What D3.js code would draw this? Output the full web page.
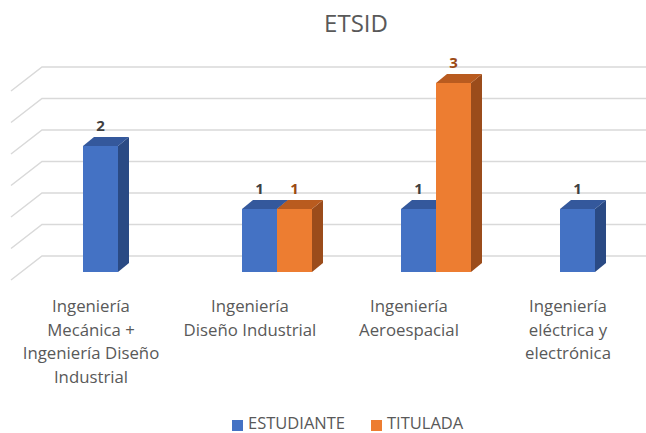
<!DOCTYPE html>
<html>
<head>
<meta charset="utf-8">
<script src="https://cdn.jsdelivr.net/npm/d3@7"></script>
<style>
  html, body { margin: 0; padding: 0; background: #fff; }
  svg { display: block; font-family: "Open Sans", sans-serif; }
</style>
</head>
<body>
<svg id="chart" width="646" height="433"></svg>
<script>
const title = "ETSID";
const categories = [
  "Ingeniería\nMecánica +\nIngeniería Diseño\nIndustrial",
  "Ingeniería\nDiseño Industrial",
  "Ingeniería\nAeroespacial",
  "Ingeniería\neléctrica y\nelectrónica"
];
const seriesNames = ["ESTUDIANTE", "TITULADA"];
const estudiante = [2, 1, 1, 1];
const titulada = [null, 1, 3, null];
const gridTicks = [0, 0.5, 1, 1.5, 2, 2.5, 3];

const colors = {
  ESTUDIANTE: { front: "#4472C4", top: "#34589c", side: "#2a4a84", label: "#404040" },
  TITULADA:   { front: "#ED7D31", top: "#b95b1f", side: "#9b4c1b", label: "#9C4A14" }
};

const svg = d3.select("#chart");
const W = 646;

// scales
const x = d3.scaleBand().domain(categories).range([38.5, 674.5]);
const xs = d3.scaleBand().domain(seriesNames).range([44.5, 114.5]);
const yFront = d3.scaleLinear().domain([0, 3]).range([272, 83]);
const yBack = d3.scaleLinear().domain([0, 3]).range([256, 67]);
const wallX = 42, wallDx = 31, wallDy = 24;
const barDx = 11, barDy = 9;
const labelShift = 27;

// title
svg.append("text").attr("x", 356).attr("y", 32).attr("text-anchor", "middle")
  .attr("font-size", 24).attr("fill", "#595959").text(title);

// gridlines (back wall + side wall)
const grid = svg.append("g").attr("stroke", "#d9d9d9").attr("stroke-width", 1.5).attr("fill", "none");
gridTicks.forEach(t => {
  const yb = yBack(t);
  grid.append("path").attr("d", `M${wallX - wallDx},${yb + wallDy}L${wallX},${yb}L${W},${yb}`);
});

// bars
const data = [];
categories.forEach((c, i) => {
  [[seriesNames[0], estudiante[i]], [seriesNames[1], titulada[i]]].forEach(([s, v]) => {
    if (v != null) data.push({ c, s, v });
  });
});

const bars = svg.append("g");
data.forEach(d => {
  const x0 = x(d.c) + xs(d.s), x1 = x0 + xs.bandwidth();
  const y0 = yFront(0), y1 = yFront(d.v);
  const col = colors[d.s];
  const g = bars.append("g");
  g.append("path").attr("fill", col.side)
    .attr("d", `M${x1},${y1}L${x1 + barDx},${y1 - barDy}L${x1 + barDx},${y0 - barDy}L${x1},${y0}Z`);
  g.append("path").attr("fill", col.top)
    .attr("d", `M${x0},${y1}L${x0 + barDx},${y1 - barDy}L${x1 + barDx},${y1 - barDy}L${x1},${y1}Z`);
  g.append("rect").attr("x", x0).attr("y", y1).attr("width", x1 - x0).attr("height", y0 - y1)
    .attr("fill", col.front);
  svg.append("text").attr("x", (x0 + x1) / 2).attr("y", y1 - 15)
    .attr("text-anchor", "middle").attr("font-size", 15).attr("font-weight", "bold")
    .attr("fill", col.label).text(d.v);
});

// category labels
categories.forEach(c => {
  const cx = x(c) + x.bandwidth() / 2 - labelShift;
  const t = svg.append("text").attr("text-anchor", "middle").attr("font-size", 16.8)
    .attr("fill", "#595959");
  c.split("\n").forEach((line, j) => {
    t.append("tspan").attr("x", cx).attr("y", 312 + j * 23.5).text(line);
  });
});

// legend
const legendPos = [{ sx: 232, tx: 248 }, { sx: 371, tx: 387 }];
seriesNames.forEach((s, i) => {
  svg.append("rect").attr("x", legendPos[i].sx).attr("y", 420).attr("width", 11).attr("height", 11)
    .attr("fill", colors[s].front);
  svg.append("text").attr("x", legendPos[i].tx).attr("y", 428.5).attr("font-size", 16.5)
    .attr("fill", "#595959").text(s);
});
</script>
</body>
</html>
